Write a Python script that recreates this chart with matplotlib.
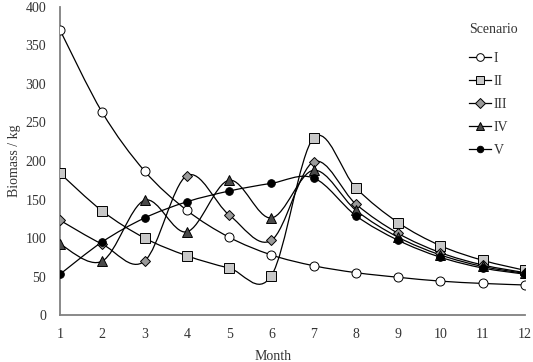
import matplotlib
matplotlib.use("Agg")
import matplotlib.pyplot as plt
from matplotlib.path import Path
from matplotlib.patches import PathPatch
from matplotlib.lines import Line2D

plt.rcParams["font.family"] = ["Liberation Serif", "DejaVu Serif"]

months = list(range(1, 13))
scenarios = ["I", "II", "III", "IV", "V"]
s1 = [370, 263, 187, 136, 101, 78, 64, 55, 49, 44, 41, 39]
s2 = [184, 135, 100, 77, 61, 51, 230, 165, 120, 90, 71, 58]
s3 = [123, 92, 70, 181, 130, 97, 199, 144, 106, 81, 65, 55]
s4 = [92, 70, 149, 108, 175, 126, 188, 136, 101, 78, 63, 54]
s5 = [53, 95, 126, 147, 161, 171, 178, 129, 97, 75, 61, 53]
series = [s1, s2, s3, s4, s5]

markers = ["o", "s", "D", "^", "o"]
faces = ["white", "#c8c8c8", "#9a9a9a", "#4a4a4a", "black"]
sizes = [6.5, 6.5, 5.5, 7, 5.5]


def smooth_path(x, y):
    # Excel-like smoothed line: cubic Bezier segments through the points
    n = len(x)
    verts = [(x[0], y[0])]
    codes = [Path.MOVETO]
    for i in range(n - 1):
        x0, y0 = (x[i - 1], y[i - 1]) if i > 0 else (x[i], y[i])
        x3, y3 = (x[i + 2], y[i + 2]) if i + 2 < n else (x[i + 1], y[i + 1])
        c1 = (x[i] + (x[i + 1] - x0) / 6, y[i] + (y[i + 1] - y0) / 6)
        c2 = (x[i + 1] - (x3 - x[i]) / 6, y[i + 1] - (y3 - y[i]) / 6)
        verts += [c1, c2, (x[i + 1], y[i + 1])]
        codes += [Path.CURVE4] * 3
    return Path(verts, codes)


fig = plt.figure(figsize=(5.33, 3.62), dpi=100)
ax = fig.add_axes([0.1126, 0.1298, 0.8724, 0.8509])

handles = []
for vals, name, m, fc, ms in zip(series, scenarios, markers, faces, sizes):
    ax.add_patch(PathPatch(smooth_path(months, vals), fill=False,
                           edgecolor="black", lw=0.9, zorder=2))
    ax.plot(months, vals, ls="none", marker=m, ms=ms, mfc=fc,
            mec="black", mew=0.7, zorder=3)
    handles.append(Line2D([], [], color="black", lw=0.9, marker=m,
                          ms=ms * 0.85, mfc=fc, mec="black", mew=0.7,
                          label=name))

ax.set_xlim(1, 12)
ax.set_ylim(0, 400)
ax.set_xticks(months)
ax.set_yticks(range(0, 401, 50))
ax.tick_params(length=0, labelsize=10, colors="#333333", pad=9)
ax.tick_params(axis="y", pad=10)
for side in ["top", "right"]:
    ax.spines[side].set_visible(False)
for side in ["left", "bottom"]:
    ax.spines[side].set_color("#808080")
    ax.spines[side].set_linewidth(1.3)

ax.set_xlabel("Month", fontsize=10, color="#333333", labelpad=7)
ax.xaxis.set_label_coords(0.458, -0.115)
ax.set_ylabel("Biomass / kg", fontsize=10, color="#333333", labelpad=3)

leg = fig.legend(handles=handles, title="Scenario", loc="upper left",
                 bbox_to_anchor=(0.862, 0.962), frameon=False, fontsize=10,
                 title_fontsize=10, handlelength=1.6, handletextpad=0.15,
                 labelspacing=0.72, borderpad=0.2)
leg._legend_box.align = "left"
leg._legend_box.sep = 11
for t in leg.get_texts():
    t.set_color("#333333")
leg.get_title().set_color("#333333")

fig.savefig("out.png", dpi=100)
